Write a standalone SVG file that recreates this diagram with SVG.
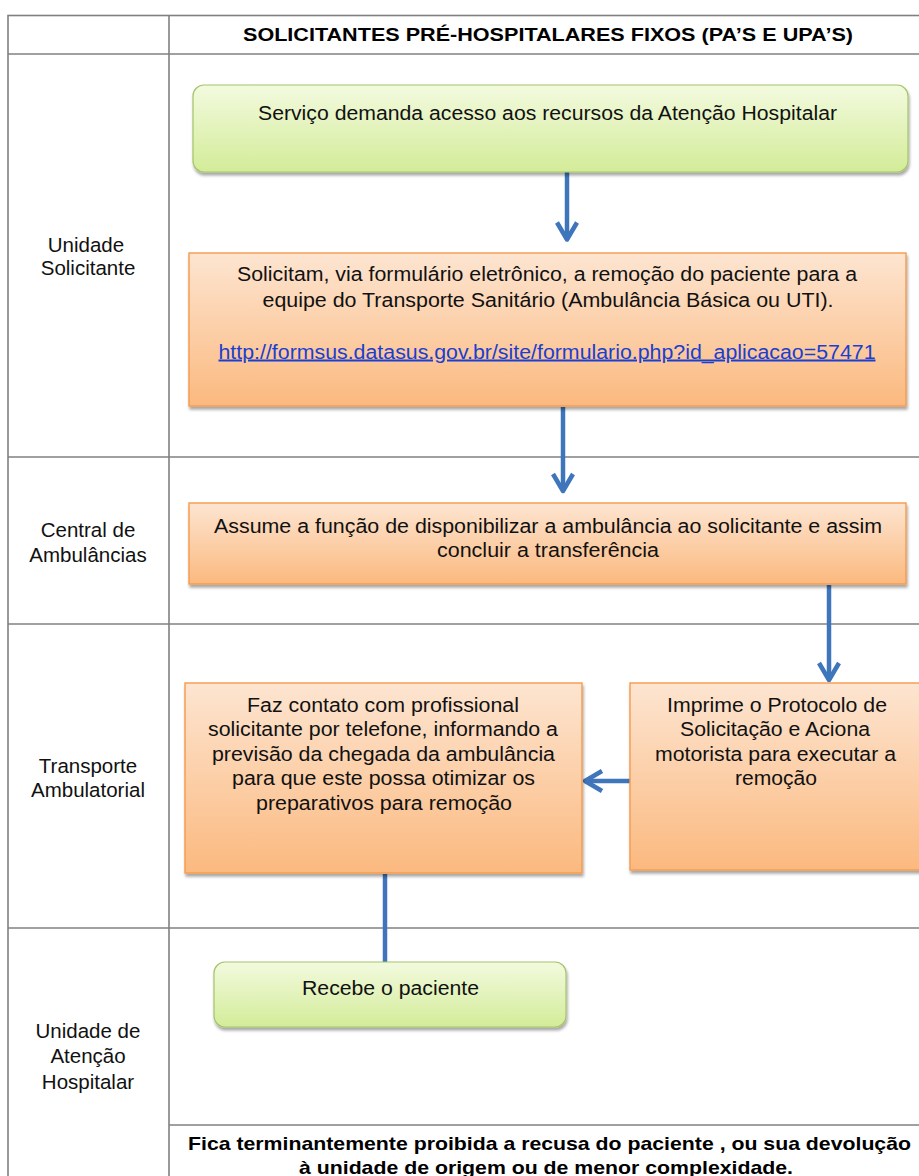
<svg xmlns="http://www.w3.org/2000/svg" width="919" height="1176" viewBox="0 0 919 1176">
  <style>
    .grid { stroke: #808080; stroke-width: 1.6; fill: none; }
    .lbl { font-family: "Liberation Sans", Arial, sans-serif; font-size: 20.5px; fill: #111; text-anchor: middle; }
    .txt { font-family: "Liberation Sans", Arial, sans-serif; font-size: 20px; fill: #111; text-anchor: middle; }
    .bold { font-family: "Liberation Sans", Arial, sans-serif; font-size: 18.5px; font-weight: bold; fill: #000; text-anchor: middle; }
    .link { fill: #1a3fd0; text-decoration: underline; }
    .green { fill: url(#gGreen); stroke: #a6c46a; stroke-width: 1.2; filter: url(#shadow); }
    .orange { fill: url(#gOrange); stroke: #f79a4a; stroke-width: 1.4; filter: url(#shadow); }
    .conn { stroke: #3e75bb; stroke-width: 4.5; fill: none; }
  </style>
  <defs>
    <linearGradient id="gGreen" x1="0" y1="0" x2="0" y2="1">
      <stop offset="0" stop-color="#f3fadf"/>
      <stop offset="1" stop-color="#d3ec98"/>
    </linearGradient>
    <linearGradient id="gOrange" x1="0" y1="0" x2="0" y2="1">
      <stop offset="0" stop-color="#fde5d1"/>
      <stop offset="1" stop-color="#fbb97f"/>
    </linearGradient>
    <filter id="shadow" x="-5%" y="-10%" width="110%" height="130%">
      <feDropShadow dx="1" dy="3" stdDeviation="1.5" flood-color="#000" flood-opacity="0.35"/>
    </filter>
    <marker id="chev" markerUnits="userSpaceOnUse" markerWidth="30" markerHeight="30" viewBox="-24 -15 30 30" refX="0" refY="0" orient="auto">
      <path d="M-17,-10 L0,0 L-17,10" fill="none" stroke="#3e75bb" stroke-width="4.5" stroke-linejoin="round"/>
    </marker>
  </defs>

  <g id="table">
    <rect class="grid" x="8" y="15.5" width="920" height="1200"/>
    <line class="grid" x1="169" y1="15.5" x2="169" y2="1176"/>
    <line class="grid" x1="8" y1="54" x2="928" y2="54"/>
    <line class="grid" x1="8" y1="457" x2="928" y2="457"/>
    <line class="grid" x1="8" y1="624" x2="928" y2="624"/>
    <line class="grid" x1="8" y1="928" x2="928" y2="928"/>
    <line class="grid" x1="169" y1="1125" x2="928" y2="1125"/>
    <text class="bold" x="548" y="41" textLength="610" lengthAdjust="spacingAndGlyphs">SOLICITANTES PRÉ-HOSPITALARES FIXOS (PA’S E UPA’S)</text>
  </g>

  <g id="lanes">
    <text class="lbl" x="86" y="252">Unidade</text>
    <text class="lbl" x="88" y="275">Solicitante</text>
    <text class="lbl" x="88" y="537">Central de</text>
    <text class="lbl" x="88" y="562">Ambulâncias</text>
    <text class="lbl" x="88" y="773">Transporte</text>
    <text class="lbl" x="88" y="797">Ambulatorial</text>
    <text class="lbl" x="88" y="1038">Unidade de</text>
    <text class="lbl" x="88" y="1063">Atenção</text>
    <text class="lbl" x="88" y="1089">Hospitalar</text>
  </g>

  <g id="connectors">
    <line class="conn" x1="567" y1="172" x2="567" y2="239.5" marker-end="url(#chev)"/>
    <line class="conn" x1="563" y1="407" x2="563" y2="491" marker-end="url(#chev)"/>
    <line class="conn" x1="829" y1="585" x2="829" y2="680" marker-end="url(#chev)"/>
    <line class="conn" x1="630" y1="781" x2="585" y2="781" marker-end="url(#chev)"/>
    <line class="conn" x1="385" y1="874" x2="385" y2="962"/>
  </g>

  <g id="n1">
    <rect class="green" x="193" y="85" width="715" height="87" rx="11"/>
    <text class="txt" x="547.5" y="120" textLength="579" lengthAdjust="spacingAndGlyphs">Serviço demanda acesso aos recursos da Atenção Hospitalar</text>
  </g>

  <g id="n2">
    <rect class="orange" x="189" y="253" width="717" height="153"/>
    <text class="txt" x="547" y="281" textLength="620" lengthAdjust="spacingAndGlyphs">Solicitam, via formulário eletrônico, a remoção do paciente para a</text>
    <text class="txt" x="548" y="306.5" textLength="571" lengthAdjust="spacingAndGlyphs">equipe do Transporte Sanitário (Ambulância Básica ou UTI).</text>
    <text class="txt link" x="547" y="358.5" textLength="657" lengthAdjust="spacingAndGlyphs">http://formsus.datasus.gov.br/site/formulario.php?id_aplicacao=57471</text>
  </g>

  <g id="n3">
    <rect class="orange" x="189" y="503" width="717" height="81"/>
    <text class="txt" x="548" y="533" textLength="668" lengthAdjust="spacingAndGlyphs">Assume a função de disponibilizar a ambulância ao solicitante e assim</text>
    <text class="txt" x="548" y="557" textLength="222" lengthAdjust="spacingAndGlyphs">concluir a transferência</text>
  </g>

  <g id="n4">
    <rect class="orange" x="185" y="683" width="397" height="190"/>
    <text class="txt" x="383" y="711.5" textLength="272" lengthAdjust="spacingAndGlyphs">Faz contato com profissional</text>
    <text class="txt" x="383" y="736" textLength="350" lengthAdjust="spacingAndGlyphs">solicitante por telefone, informando a</text>
    <text class="txt" x="383.5" y="760.5" textLength="343" lengthAdjust="spacingAndGlyphs">previsão da chegada da ambulância</text>
    <text class="txt" x="383.5" y="785" textLength="303" lengthAdjust="spacingAndGlyphs">para que este possa otimizar os</text>
    <text class="txt" x="384" y="809.5" textLength="256" lengthAdjust="spacingAndGlyphs">preparativos para remoção</text>
  </g>

  <g id="n5">
    <rect class="orange" x="630" y="683" width="293" height="187"/>
    <text class="txt" x="777" y="711.5" textLength="220" lengthAdjust="spacingAndGlyphs">Imprime o Protocolo de</text>
    <text class="txt" x="775" y="736" textLength="190" lengthAdjust="spacingAndGlyphs">Solicitação e Aciona</text>
    <text class="txt" x="775.5" y="760.5" textLength="241" lengthAdjust="spacingAndGlyphs">motorista para executar a</text>
    <text class="txt" x="776" y="785" textLength="82" lengthAdjust="spacingAndGlyphs">remoção</text>
  </g>

  <g id="n6">
    <rect class="green" x="214" y="962" width="352" height="65" rx="11"/>
    <text class="txt" x="390.5" y="995" textLength="177" lengthAdjust="spacingAndGlyphs">Recebe o paciente</text>
  </g>

  <g id="footer">
    <text class="bold" x="549.5" y="1150" textLength="723" lengthAdjust="spacingAndGlyphs">Fica terminantemente proibida a recusa do paciente , ou sua devolução</text>
    <text class="bold" x="546" y="1174" textLength="494" lengthAdjust="spacingAndGlyphs">à unidade de origem ou de menor complexidade.</text>
  </g>
</svg>
